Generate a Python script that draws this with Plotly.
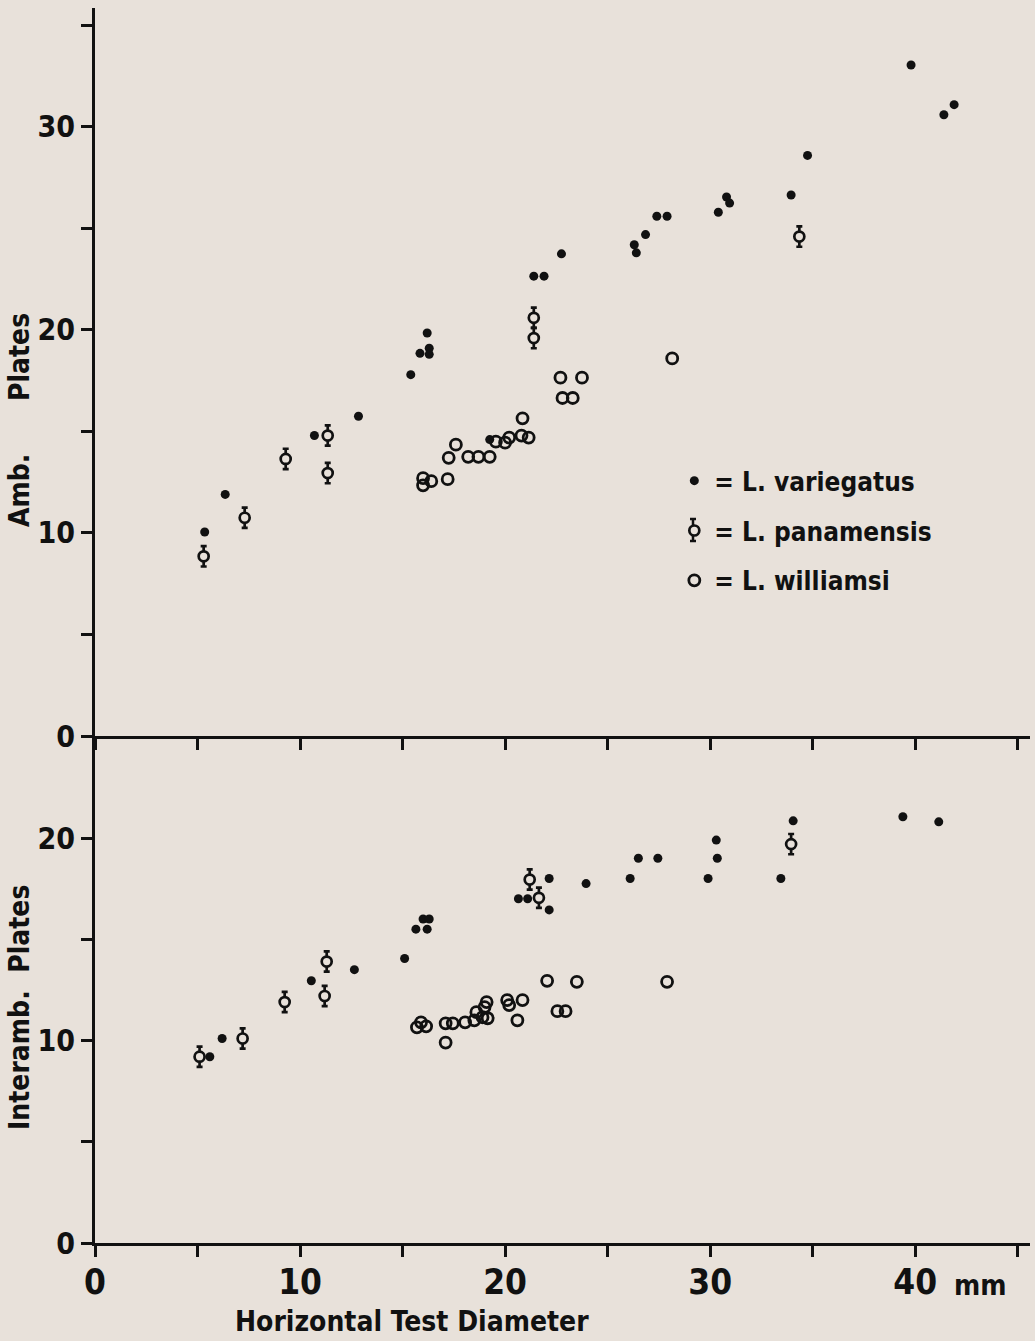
import plotly.graph_objects as go

# ---------------- data ----------------
# Top panel: ambulacral plates vs horizontal test diameter (mm)
amb_var_x = [5.35, 6.35, 10.7, 12.85, 15.4, 15.85, 16.2, 16.3, 16.3, 19.25, 21.4, 21.9, 22.75,
             26.3, 26.4, 26.85, 27.4, 27.9, 30.4, 30.8, 30.95, 33.95, 34.75, 39.8, 41.4, 41.9]
amb_var_y = [10.05, 11.9, 14.8, 15.75, 17.8, 18.85, 19.85, 19.1, 18.8, 14.6, 22.65, 22.65, 23.75,
             24.2, 23.8, 24.7, 25.6, 25.6, 25.8, 26.55, 26.25, 26.65, 28.6, 33.05, 30.6, 31.1]

amb_pan_x = [5.3, 7.3, 9.3, 11.35, 11.35, 21.4, 21.4, 34.35]
amb_pan_y = [8.85, 10.75, 13.65, 14.8, 12.95, 20.6, 19.6, 24.6]

amb_wil_x = [16.0, 16.0, 16.4, 17.2, 17.25, 17.6, 18.2, 18.7, 19.25, 19.55, 20.0, 20.2, 20.8,
             21.15, 20.85, 22.7, 23.75, 22.8, 23.3, 28.15]
amb_wil_y = [12.7, 12.35, 12.55, 12.65, 13.7, 14.35, 13.75, 13.75, 13.75, 14.5, 14.45, 14.7, 14.8,
             14.7, 15.65, 17.65, 17.65, 16.65, 16.65, 18.6]

# Bottom panel: interambulacral plates
int_var_x = [5.6, 6.2, 10.55, 12.65, 15.1, 15.65, 16.2, 16.0, 16.3, 20.65, 21.1, 22.15, 22.15,
             23.95, 26.1, 26.5, 27.45, 29.9, 30.3, 30.35, 33.45, 34.05, 39.4, 41.15]
int_var_y = [9.2, 10.1, 12.95, 13.5, 14.05, 15.5, 15.5, 16.0, 16.0, 17.0, 17.0, 18.0, 16.45,
             17.75, 18.0, 19.0, 19.0, 18.0, 19.9, 19.0, 18.0, 20.85, 21.05, 20.8]

int_pan_x = [5.1, 7.2, 9.25, 11.3, 11.2, 21.2, 21.65, 33.95]
int_pan_y = [9.2, 10.1, 11.9, 13.9, 12.2, 17.95, 17.05, 19.7]

int_wil_x = [15.7, 15.9, 16.15, 17.1, 17.45, 17.1, 18.05, 18.5, 18.6, 18.9, 19.15, 19.0, 19.1,
             20.1, 20.2, 20.85, 20.6, 22.05, 22.55, 22.95, 23.5, 27.9]
int_wil_y = [10.65, 10.9, 10.7, 10.85, 10.85, 9.9, 10.9, 11.0, 11.4, 11.15, 11.1, 11.65, 11.9,
             12.0, 11.75, 12.0, 11.0, 12.95, 11.45, 11.45, 12.9, 12.9]

x_tick_vals = [0, 10, 20, 30, 40]
x_tick_text = ["0", "10", "20", "30", "40"]
amb_tick_vals = [0, 10, 20, 30]
int_tick_vals = [0, 10, 20]

names = ["= L. variegatus", "= L. panamensis", "= L. williamsi"]

# ---------------- style ----------------
BG = "#e8e1da"
INK = "#111111"
FONT = "DejaVu Sans Condensed, DejaVu Sans, sans-serif"

W, H = 1035, 1341
ML, MR, MT, MB = 95, 5, 8, 98
PW, PH = W - ML - MR, H - MT - MB

fig = go.Figure()


def add_panel(xs, ys, xa, ya, show):
    vx, vy, px, py, wx, wy = xs[0], ys[0], xs[1], ys[1], xs[2], ys[2]
    fig.add_trace(go.Scatter(
        x=vx, y=vy, xaxis=xa, yaxis=ya, mode="markers", name=names[0],
        legendgroup="v", showlegend=show,
        marker=dict(symbol="circle", size=9, color=INK, line=dict(width=0)),
    ))
    fig.add_trace(go.Scatter(
        x=px, y=py, xaxis=xa, yaxis=ya, mode="markers", name=names[1],
        legendgroup="p", showlegend=show,
        marker=dict(symbol="circle", size=10, color=BG, line=dict(width=2.7, color=INK)),
        error_y=dict(type="constant", value=0.5, thickness=2.7, width=3, color=INK),
    ))
    fig.add_trace(go.Scatter(
        x=wx, y=wy, xaxis=xa, yaxis=ya, mode="markers", name=names[2],
        legendgroup="w", showlegend=show,
        marker=dict(symbol="circle-open", size=11, color=INK, line=dict(width=2.8, color=INK)),
    ))


add_panel([amb_var_x, amb_pan_x, amb_wil_x], [amb_var_y, amb_pan_y, amb_wil_y], "x2", "y", True)
add_panel([int_var_x, int_pan_x, int_wil_x], [int_var_y, int_pan_y, int_wil_y], "x", "y2", False)

split = 507 / PH
XMAX = 45.6

minor_tick = dict(ticks="outside", ticklen=11, tickwidth=2.6, tickcolor=INK)
axis_common = dict(
    showline=True, linecolor=INK, linewidth=3, ticks="outside", ticklen=11,
    tickwidth=2.6, tickcolor=INK, showgrid=False, zeroline=False,
)
yfont = dict(family=FONT, size=30, color=INK, weight="bold")
xfont = dict(family=FONT, size=35, color=INK, weight="bold")


def px_x(p):
    return (p - ML) / PW


def px_y(p):
    return (MT + PH - p) / PH


fig.update_layout(
    width=W, height=H,
    margin=dict(l=ML, r=MR, t=MT, b=MB),
    paper_bgcolor=BG, plot_bgcolor=BG,
    font=dict(family=FONT, color=INK, weight="bold"),
    xaxis=dict(domain=[0, 1], anchor="y2", range=[0, XMAX], tickvals=x_tick_vals,
               ticktext=x_tick_text, tickfont=xfont, ticklabelstandoff=-5,
               minor=dict(tickvals=[5, 15, 25, 35, 45], **minor_tick), **axis_common),
    xaxis2=dict(domain=[0, 1], anchor="y", matches="x", range=[0, XMAX], showticklabels=False,
                tickvals=[0, 5, 10, 15, 20, 25, 30, 35, 40, 45], **axis_common),
    yaxis=dict(domain=[split, 1], anchor="x2", range=[0, 35.86], tickvals=amb_tick_vals,
               tickfont=yfont, minor=dict(tickvals=[5, 15, 25, 35], **minor_tick), **axis_common),
    yaxis2=dict(domain=[0, split], anchor="x", range=[0, 25.04], tickvals=int_tick_vals,
                tickfont=yfont, minor=dict(tickvals=[5, 15], **minor_tick), **axis_common),
    legend=dict(x=0.6196, y=0.6362, xanchor="left", yanchor="top", bgcolor="rgba(0,0,0,0)",
                font=dict(family=FONT, size=26, color=INK, weight="bold"),
                tracegroupgap=13, itemwidth=30),
    showlegend=True,
)

# small error-bar whiskers on the panamensis legend key
lx, ly = px_x(693), px_y(530)
for sgn in (1, -1):
    fig.add_shape(type="line", xref="paper", yref="paper", xsizemode="pixel", ysizemode="pixel",
                  xanchor=lx, yanchor=ly, x0=0, x1=0, y0=sgn * 5, y1=sgn * 11,
                  line=dict(color=INK, width=2.5))
    fig.add_shape(type="line", xref="paper", yref="paper", xsizemode="pixel", ysizemode="pixel",
                  xanchor=lx, yanchor=ly, x0=-3, x1=3, y0=sgn * 11, y1=sgn * 11,
                  line=dict(color=INK, width=2.5))

fig.add_annotation(text="Amb.      Plates", xref="paper", yref="paper", x=px_x(19), y=px_y(420),
                   textangle=-90, showarrow=False, xanchor="center", yanchor="middle",
                   font=dict(family=FONT, size=28, color=INK, weight="bold"))
fig.add_annotation(text="Interamb.  Plates", xref="paper", yref="paper", x=px_x(19), y=px_y(1008),
                   textangle=-90, showarrow=False, xanchor="center", yanchor="middle",
                   font=dict(family=FONT, size=28, color=INK, weight="bold"))
fig.add_annotation(text="Horizontal Test Diameter", xref="paper", yref="paper", x=px_x(412), y=0,
                   yshift=-78, showarrow=False, xanchor="center", yanchor="middle",
                   font=dict(family=FONT, size=28, color=INK, weight="bold"))
fig.add_annotation(text="mm", xref="x", yref="paper", x=43.2, y=0, yshift=-42,
                   showarrow=False, xanchor="center", yanchor="middle",
                   font=dict(family=FONT, size=28, color=INK, weight="bold"))

fig.write_html(
    "out.html",
    config={"displayModeBar": False},
    post_script="document.body.style.margin='0';document.body.style.background='%s';" % BG,
)
